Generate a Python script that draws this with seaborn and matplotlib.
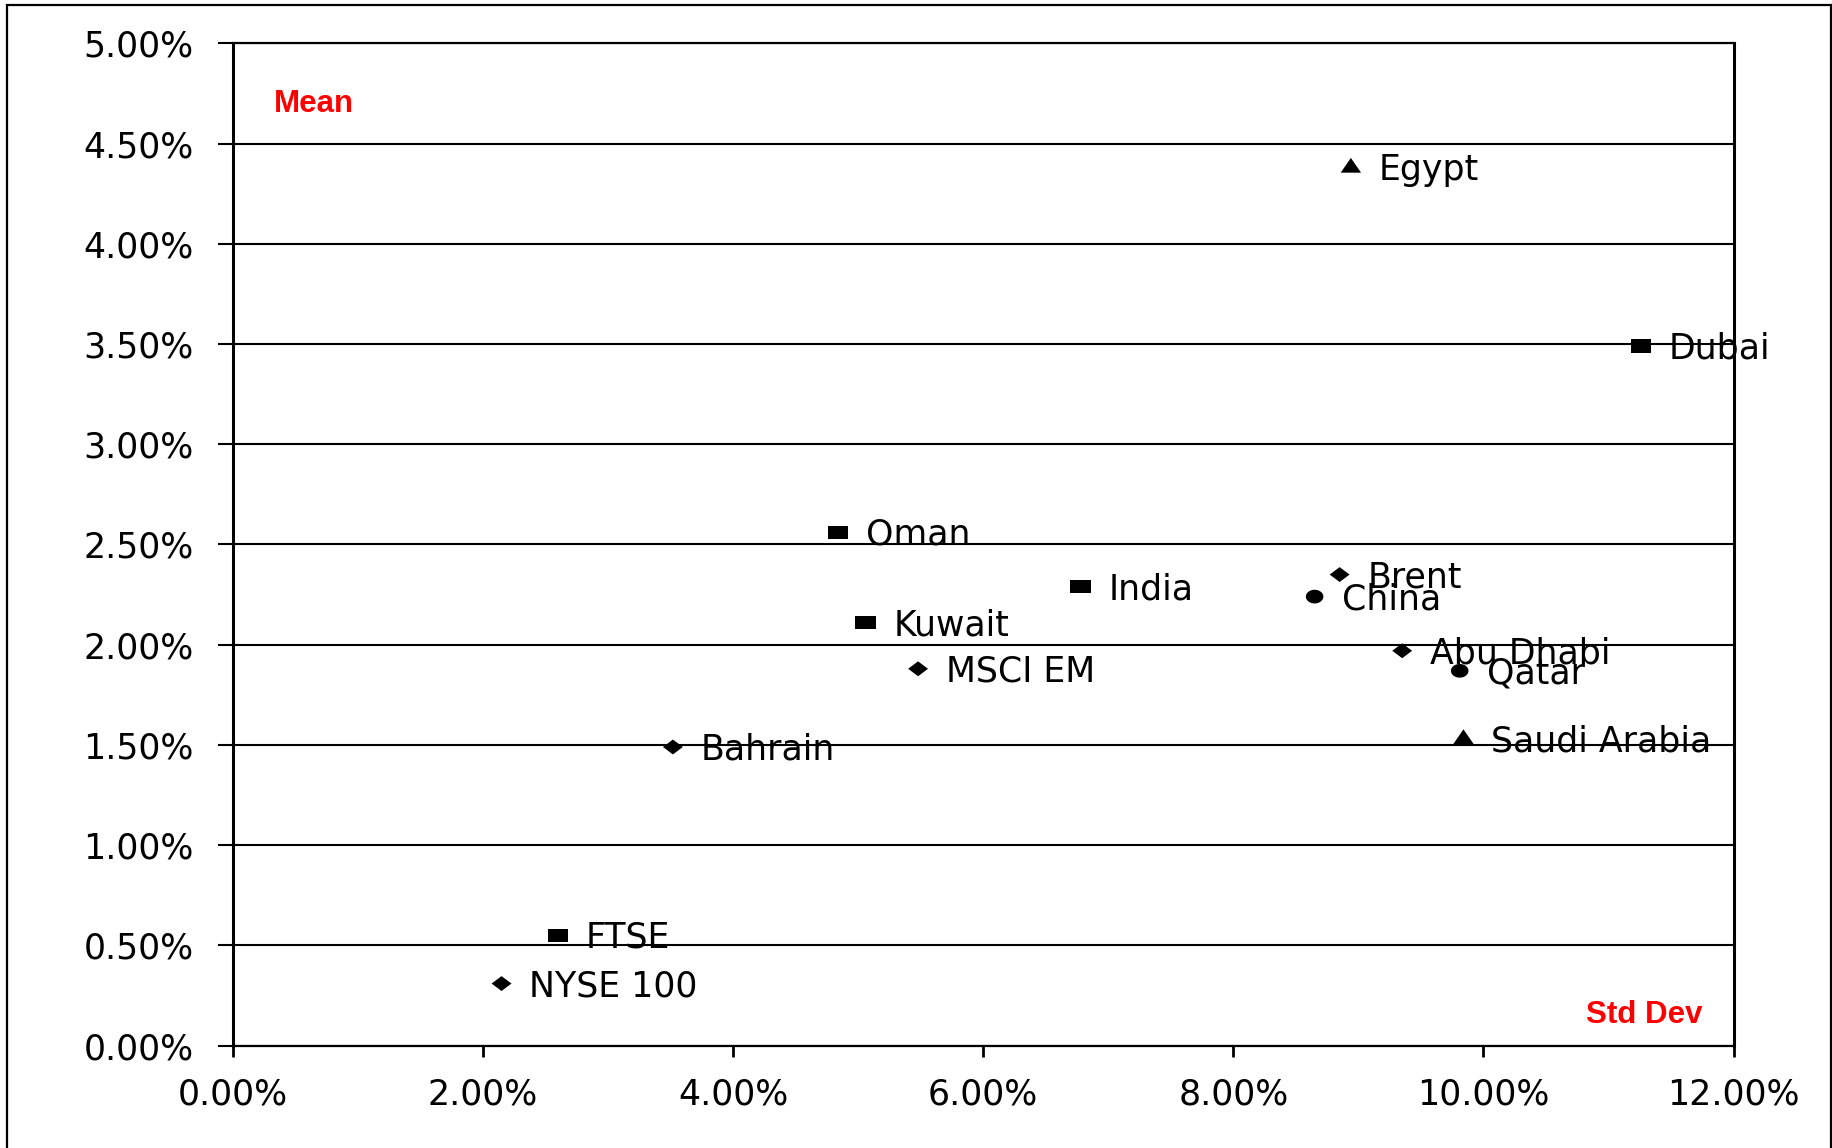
import numpy as np
import pandas as pd
import matplotlib
matplotlib.use("Agg")
import matplotlib.pyplot as plt
from matplotlib.path import Path
from matplotlib.patches import Rectangle
from matplotlib.ticker import FuncFormatter, MultipleLocator
import seaborn as sns

# Risk/return figures for each market (monthly, %)
markets = ["Egypt", "Dubai", "Oman", "India", "Kuwait", "MSCI EM", "Bahrain",
           "FTSE", "NYSE 100", "Brent", "China", "Abu Dhabi", "Qatar", "Saudi Arabia"]
std_dev = [8.94, 11.26, 4.84, 6.78, 5.06, 5.48, 3.52,
           2.60, 2.15, 8.85, 8.65, 9.35, 9.81, 9.84]
mean_ret = [4.38, 3.49, 2.56, 2.29, 2.11, 1.88, 1.49,
            0.55, 0.31, 2.35, 2.24, 1.97, 1.87, 1.53]
shapes = ["triangle", "square", "square", "square", "square", "diamond", "diamond",
          "square", "diamond", "diamond", "circle", "diamond", "circle", "triangle"]

df = pd.DataFrame({"market": markets, "std": std_dev, "mean": mean_ret, "shape": shapes})

# Marker outlines, slightly wider than tall
rect = Path([(-1, -0.65), (1, -0.65), (1, 0.65), (-1, 0.65), (-1, -0.65)],
            [Path.MOVETO, Path.LINETO, Path.LINETO, Path.LINETO, Path.CLOSEPOLY])
diamond = Path([(0, -0.75), (1, 0), (0, 0.75), (-1, 0), (0, -0.75)],
               [Path.MOVETO, Path.LINETO, Path.LINETO, Path.LINETO, Path.CLOSEPOLY])
theta = np.linspace(0, 2 * np.pi, 41)
ellipse = Path(np.column_stack([np.cos(theta), 0.78 * np.sin(theta)]), closed=True)
tri = Path([(-1, -0.5), (1, -0.5), (0, 0.95), (-1, -0.5)],
           [Path.MOVETO, Path.LINETO, Path.LINETO, Path.CLOSEPOLY])

marker_map = {"square": rect, "diamond": diamond, "circle": ellipse, "triangle": tri}
size_map = {"square": 220, "diamond": 205, "circle": 160, "triangle": 215}

sns.set_theme(style="white")
plt.rcParams["font.family"] = ["DejaVu Sans"]

fig = plt.figure(figsize=(18.33, 11.48), dpi=100)
ax = fig.add_axes([0.1269, 0.0891, 0.9458 - 0.1269, 0.9623 - 0.0891])

sns.scatterplot(data=df, x="std", y="mean", style="shape", markers=marker_map,
                size="shape", sizes=size_map, color="black", edgecolor="none",
                linewidth=0, legend=False, ax=ax, zorder=3)

label_size = 25
for name, xv, yv in zip(markets, std_dev, mean_ret):
    ax.annotate(name, (xv, yv), xytext=(20, -9.0), textcoords="offset points",
                ha="left", va="baseline", fontsize=label_size, color="black",
                zorder=4, annotation_clip=False)

ax.set_xlim(0, 12)
ax.set_ylim(0, 5)
ax.xaxis.set_major_locator(MultipleLocator(2))
ax.yaxis.set_major_locator(MultipleLocator(0.5))
ax.xaxis.set_major_formatter(FuncFormatter(lambda v, p: f"{v:.2f}%"))
ax.yaxis.set_major_formatter(FuncFormatter(lambda v, p: f"{v:.2f}%"))
ax.set_xlabel("")
ax.set_ylabel("")

ax.grid(axis="y", color="black", linewidth=1.5)
ax.grid(axis="x", visible=False)
ax.set_axisbelow(True)

for side in ["left", "right"]:
    ax.spines[side].set_visible(True)
    ax.spines[side].set_color("black")
    ax.spines[side].set_linewidth(2.2)
for side in ["top", "bottom"]:
    ax.spines[side].set_color("black")
    ax.spines[side].set_linewidth(1.6)

ax.tick_params(axis="y", direction="out", length=11, width=1.5, pad=17,
               labelsize=label_size, colors="black", left=True)
ax.tick_params(axis="x", direction="out", length=8, width=2.0, pad=15,
               labelsize=label_size, colors="black", bottom=True)

ax.text(0.0275, 0.939, "Mean", transform=ax.transAxes, color="red",
        fontsize=22.5, fontweight="bold", family="Liberation Sans",
        ha="left", va="center")
ax.text(0.9793, 0.0306, "Std Dev", transform=ax.transAxes, color="red",
        fontsize=22.5, fontweight="bold", family="Liberation Sans",
        ha="right", va="center")

# Outer frame around the chart area
fig.patches.append(Rectangle((7 / 1833, -0.05), (1831 - 7) / 1833, 1.05 - 5 / 1148,
                             transform=fig.transFigure, fill=False,
                             edgecolor="black", linewidth=1.6, clip_on=False))

fig.savefig("out.png", dpi=100, facecolor="white")
